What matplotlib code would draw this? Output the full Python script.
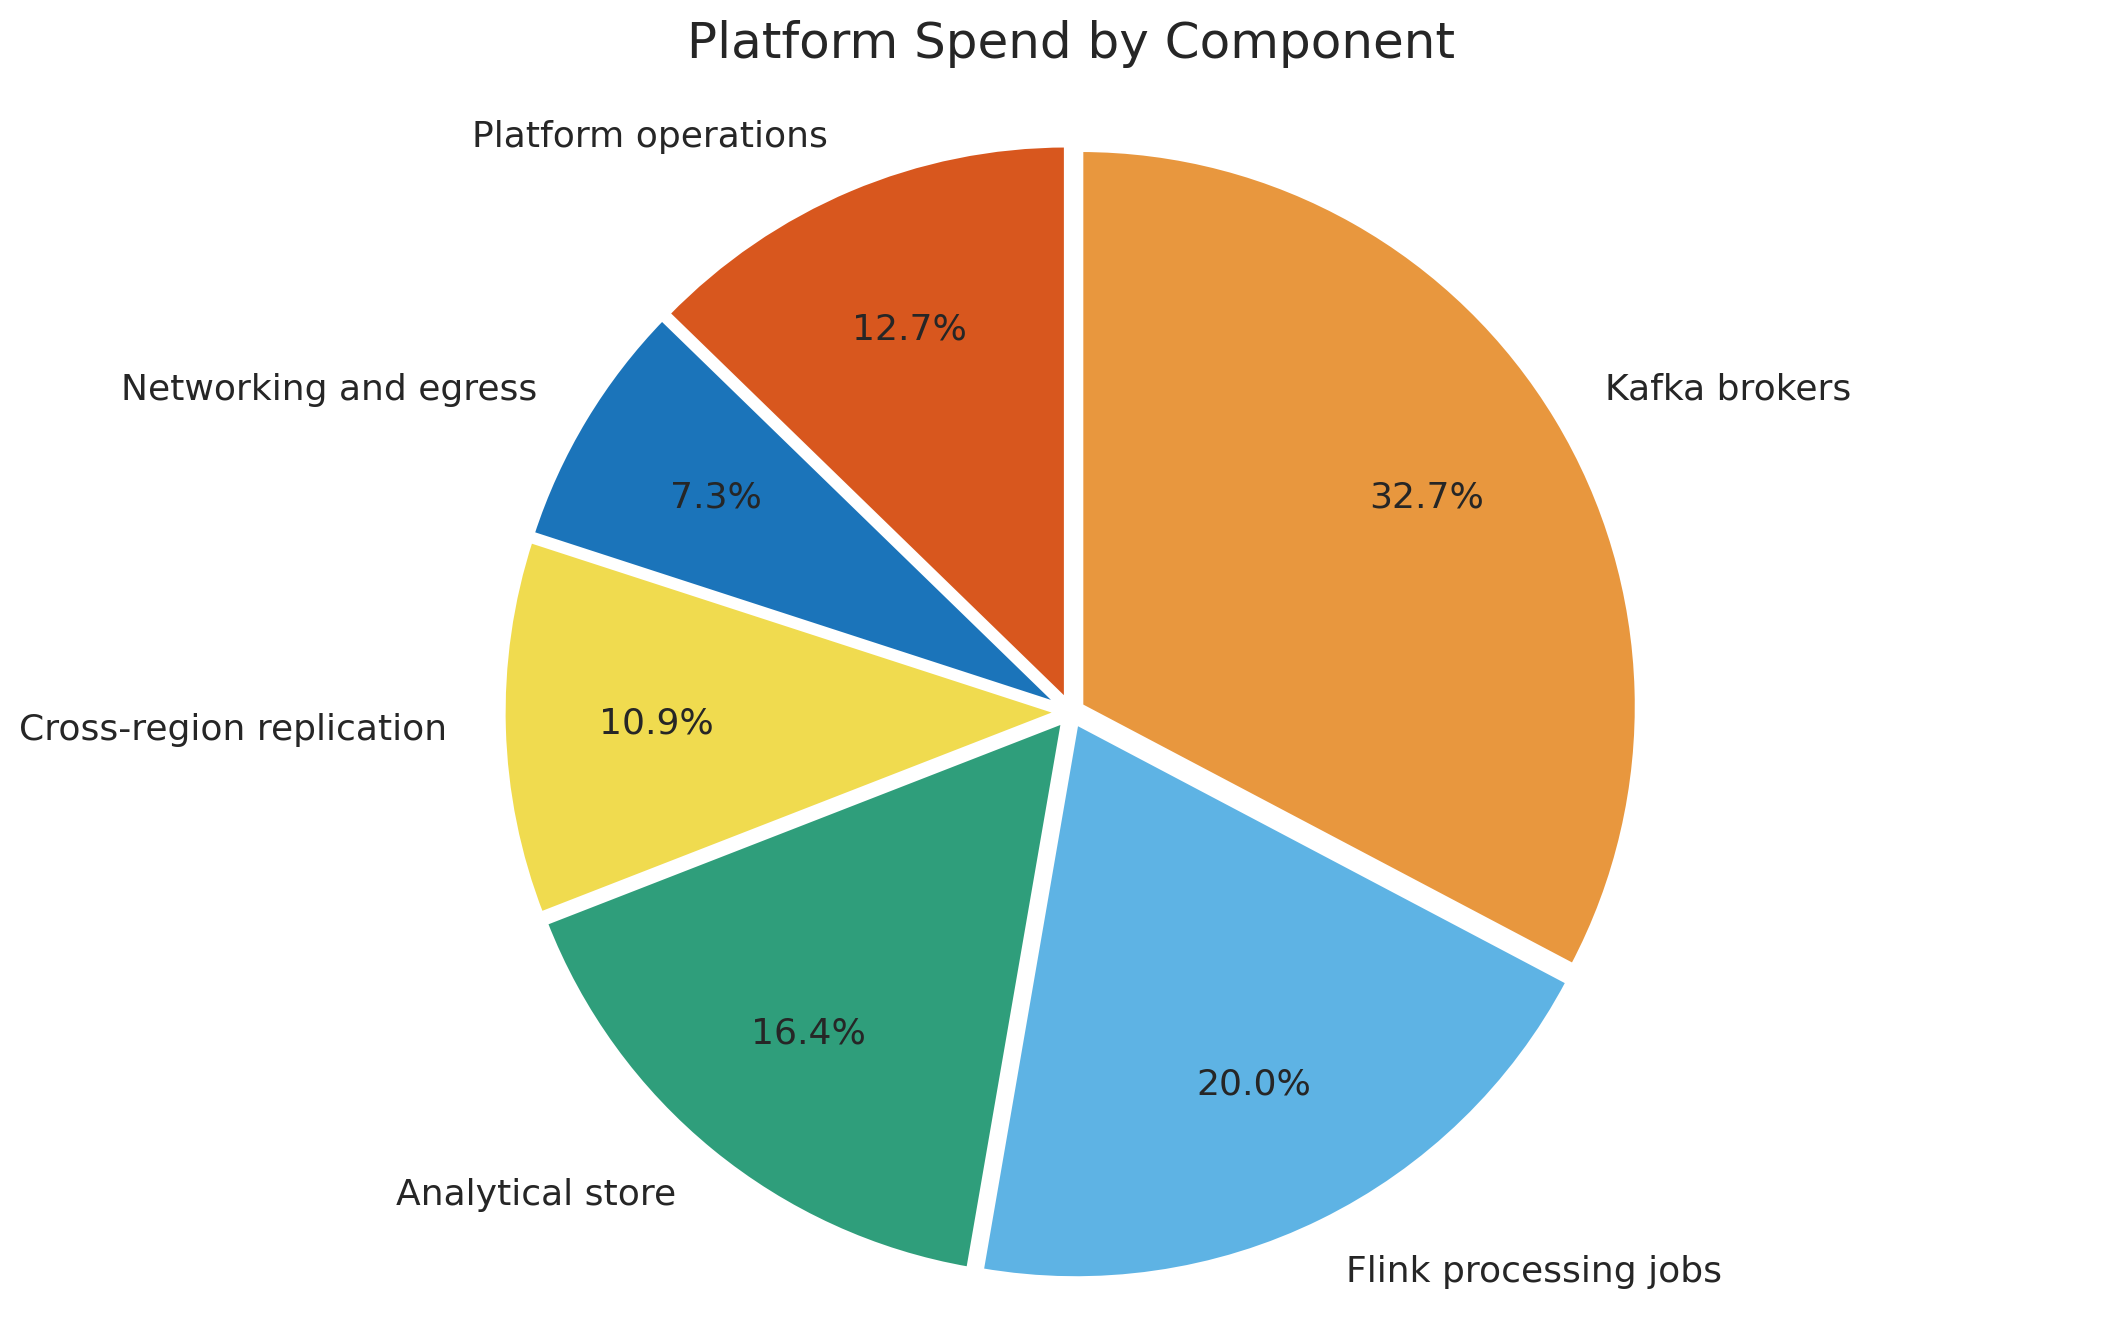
import matplotlib
matplotlib.use("Agg")
import matplotlib.pyplot as plt

# Data (clockwise from 12 o'clock)
components = ["Kafka brokers", "Flink processing jobs", "Analytical store",
              "Cross-region replication", "Networking and egress", "Platform operations"]
spend = [18, 11, 9, 6, 4, 7]
colors = ["#E8973E", "#5EB3E4", "#2F9E7B", "#F0DB4F", "#1B74BA", "#D8571E"]
title = "Platform Spend by Component"

W, H, DPI = 2113, 1330, 200
fig = plt.figure(figsize=(W / DPI, H / DPI), dpi=DPI)
ax = fig.add_axes([0, 0, 1, 1])

text_color = "#262626"
ax.pie(spend, labels=components, colors=colors, startangle=90, counterclock=False,
       explode=[0.02] * len(spend), autopct="%1.1f%%", pctdistance=0.725,
       labeldistance=1.1,
       wedgeprops=dict(edgecolor="white", linewidth=2),
       textprops=dict(fontsize=13, color=text_color))

# layout: pie centre and radius in pixels
cx, cy, r = 1071.0, 712.0, 557.0
ax.set_xlim(-cx / r, (W - cx) / r)
ax.set_ylim(-(H - cy) / r, cy / r)
ax.set_aspect("auto")
ax.axis("off")

fig.text(1071 / W, 1 - 44 / H, title, ha="center", va="center",
         fontsize=18, color=text_color)

fig.savefig("out.png", dpi=DPI, facecolor="white")
